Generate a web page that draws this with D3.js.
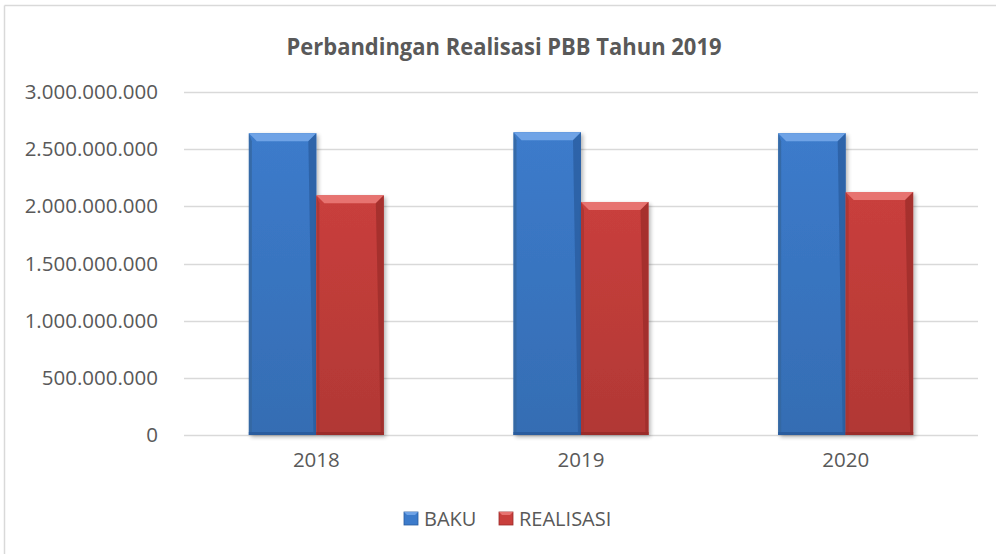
<!DOCTYPE html>
<html>
<head>
<meta charset="utf-8">
<script src="https://cdn.jsdelivr.net/npm/d3@7.9.0/dist/d3.min.js"></script>
<style>
  html, body { margin: 0; padding: 0; background: #fff; overflow: hidden; }
  svg { display: block; }
  svg text { font-family: "Open Sans", "Noto Sans", sans-serif; fill: #595959; }
</style>
</head>
<body>
<div id="chart"></div>
<script>
// Data
const years = ['2018', '2019', '2020'];
const seriesNames = ['BAKU', 'REALISASI'];
const baku = [2640000000, 2649000000, 2640000000];
const realisasi = [2096000000, 2038000000, 2125000000];
const yTicks = [0, 500000000, 1000000000, 1500000000, 2000000000, 2500000000, 3000000000];

const width = 996, height = 554;
const margin = { top: 92, right: 18, bottom: 119, left: 184 };
const innerWidth = width - margin.left - margin.right;
const innerHeight = height - margin.top - margin.bottom;

const colors = {
  BAKU: { main: '#3c7bcb', light: '#6fa3e6', dark: '#2a5c9e', side: '#34679f' },
  REALISASI: { main: '#c93f3c', light: '#e77370', dark: '#9b2c2a', side: '#a93532' }
};

const svg = d3.select('#chart').append('svg')
  .attr('width', width)
  .attr('height', height)
  .attr('viewBox', `0 0 ${width} ${height}`);

// Chart frame (only top and left edge are visible in the reference)
svg.append('line').attr('x1', 4.5).attr('x2', width).attr('y1', 5.5).attr('y2', 5.5)
  .attr('stroke', '#d9d9d9').attr('stroke-width', 1.5);
svg.append('line').attr('x1', 4.5).attr('x2', 4.5).attr('y1', 5.5).attr('y2', height)
  .attr('stroke', '#d9d9d9').attr('stroke-width', 1.5);

// Gradients for the bevelled bars
const defs = svg.append('defs');
seriesNames.forEach(name => {
  const c = colors[name];
  const lg = defs.append('linearGradient')
    .attr('id', 'grad-' + name)
    .attr('x1', '0%').attr('y1', '0%').attr('x2', '0%').attr('y2', '100%');
  lg.append('stop').attr('offset', '0%').attr('stop-color', c.main);
  lg.append('stop').attr('offset', '100%').attr('stop-color', d3.color(c.main).darker(0.35));
});
const shadow = defs.append('filter').attr('id', 'shadow')
  .attr('x', '-10%').attr('y', '-10%').attr('width', '130%').attr('height', '130%');
shadow.append('feGaussianBlur').attr('in', 'SourceAlpha').attr('stdDeviation', 2);
shadow.append('feOffset').attr('dx', 2).attr('dy', 2).attr('result', 'b');
shadow.append('feComponentTransfer').append('feFuncA').attr('type', 'linear').attr('slope', 0.3);
const merge = shadow.append('feMerge');
merge.append('feMergeNode');
merge.append('feMergeNode').attr('in', 'SourceGraphic');

// Scales in page coordinates
const x0 = d3.scaleBand().domain(years)
  .range([margin.left, margin.left + innerWidth]).paddingInner(0).paddingOuter(0);
const x1 = d3.scaleBand().domain(seriesNames)
  .range([x0.bandwidth() * 0.245, x0.bandwidth() * 0.755]);
const y = d3.scaleLinear().domain([0, 3000000000])
  .range([margin.top + innerHeight, margin.top]);

const fmt = d => d3.format(',')(d).replace(/,/g, '.');

// Gridlines
svg.append('g')
  .selectAll('line')
  .data(yTicks)
  .join('line')
  .attr('x1', margin.left).attr('x2', margin.left + innerWidth)
  .attr('y1', d => Math.round(y(d)) + 0.5).attr('y2', d => Math.round(y(d)) + 0.5)
  .attr('stroke', '#d9d9d9').attr('stroke-width', 1.5);

// Y axis labels, right-aligned by measuring (start anchor)
const yRight = margin.left - 26;
svg.append('g')
  .selectAll('text')
  .data(yTicks)
  .join('text')
  .attr('y', d => y(d) + 7)
  .style('font-size', '20.5px')
  .text(fmt)
  .attr('x', function () { return yRight - this.getComputedTextLength(); });

// X axis labels
svg.append('g')
  .selectAll('text')
  .data(years)
  .join('text')
  .attr('x', d => x0(d) + x0.bandwidth() / 2)
  .attr('y', y(0) + 32)
  .attr('text-anchor', 'middle')
  .style('font-size', '20.5px')
  .text(d => d);

// Bars
const rows = years.map((yr, i) => ({ year: yr, values: [
  { key: 'BAKU', value: baku[i] },
  { key: 'REALISASI', value: realisasi[i] }
]}));

const bev = 8;
const groups = svg.selectAll('.grp').data(rows).join('g')
  .attr('class', 'grp')
  .attr('transform', d => `translate(${x0(d.year)},0)`);

const bars = groups.selectAll('.bar').data(d => d.values).join('g').attr('class', 'bar');

bars.append('rect')
  .attr('x', d => x1(d.key))
  .attr('y', d => y(d.value))
  .attr('width', x1.bandwidth())
  .attr('height', d => y(0) - y(d.value))
  .attr('fill', d => `url(#grad-${d.key})`)
  .attr('filter', 'url(#shadow)');

// Bevel: top edge (light)
bars.append('polygon')
  .attr('points', d => {
    const l = x1(d.key), r = l + x1.bandwidth(), t = y(d.value);
    return `${l},${t} ${r},${t} ${r - bev},${t + bev} ${l + bev},${t + bev}`;
  })
  .attr('fill', d => colors[d.key].light);
// left edge
bars.append('polygon')
  .attr('points', d => {
    const l = x1(d.key), t = y(d.value), b = y(0);
    return `${l},${t} ${l + 3},${t + bev} ${l + 3},${b} ${l},${b}`;
  })
  .attr('fill', d => colors[d.key].side).attr('opacity', 0.8);
// right edge (dark)
bars.append('polygon')
  .attr('points', d => {
    const r = x1(d.key) + x1.bandwidth(), t = y(d.value), b = y(0);
    return `${r},${t} ${r - bev},${t + bev} ${r - 3},${b} ${r},${b}`;
  })
  .attr('fill', d => colors[d.key].dark).attr('opacity', 0.75);
// bottom edge
bars.append('rect')
  .attr('x', d => x1(d.key))
  .attr('y', y(0) - 3)
  .attr('width', x1.bandwidth())
  .attr('height', 3)
  .attr('fill', d => colors[d.key].dark);

// Title
svg.append('text')
  .attr('x', 504).attr('y', 55)
  .attr('text-anchor', 'middle')
  .attr('textLength', 435)
  .attr('lengthAdjust', 'spacingAndGlyphs')
  .style('font-size', '23px')
  .style('font-weight', 'bold')
  .text('Perbandingan Realisasi PBB Tahun 2019');

// Legend
const legendItems = [
  { key: 'BAKU', x: 404 },
  { key: 'REALISASI', x: 499 }
];
const legend = svg.append('g');
legendItems.forEach(item => {
  const c = colors[item.key];
  legend.append('rect').attr('x', item.x).attr('y', 512).attr('width', 14).attr('height', 13)
    .attr('fill', c.main).attr('stroke', c.dark).attr('stroke-width', 0.8);
  legend.append('polygon')
    .attr('points', `${item.x},512 ${item.x + 14},512 ${item.x + 11},515 ${item.x + 3},515`)
    .attr('fill', c.light);
  legend.append('text').attr('x', item.x + 20).attr('y', 526)
    .style('font-size', '20px')
    .text(item.key);
});
</script>
</body>
</html>
